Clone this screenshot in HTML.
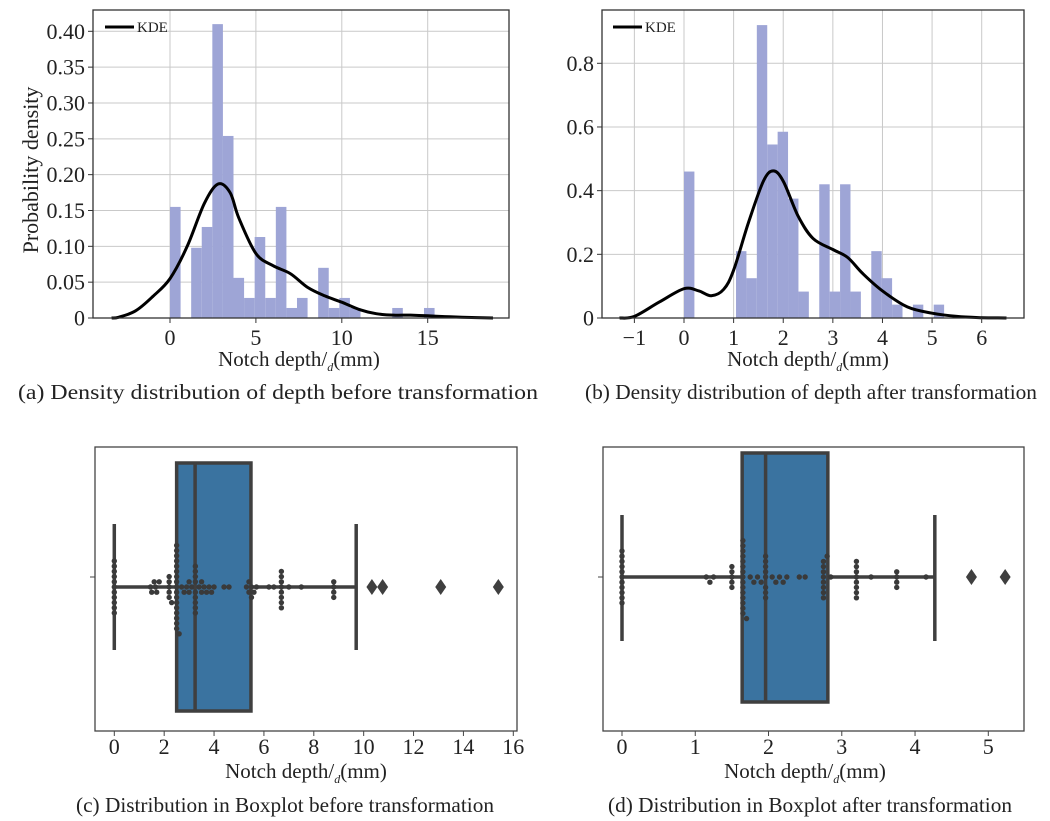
<!DOCTYPE html>
<html><head><meta charset="utf-8">
<style>
html,body{margin:0;padding:0;background:#fff;}
svg{display:block;font-family:"Liberation Serif",serif;}
</style></head>
<body>
<svg id="fig" width="1050" height="821" viewBox="0 0 1050 821" xmlns="http://www.w3.org/2000/svg"></svg>
<script>
// ---- Panel (a) data ----
const aBinWidth = 0.616;
const aHist = [0.155,0,0.098,0.127,0.41,0.254,0.056,0.028,0.113,0.028,0.155,0.014,0.028,0,0.070,0.014,0.028,0.014,0,0,0,0.014,0,0,0.014];
const aKdeX = [-3.4,-3,-2,-1,0,1,2,2.8,3.5,4,5,6,7,8,9,10,11,12,13,14,15,16,17,18.8];
const aKdeY = [0,0.001,0.01,0.03,0.055,0.10,0.16,0.187,0.175,0.14,0.09,0.073,0.062,0.043,0.031,0.022,0.012,0.006,0.004,0.004,0.003,0.002,0.001,0];
const aXTicks = [0,5,10,15];
const aYTicks = [0,0.05,0.10,0.15,0.20,0.25,0.30,0.35,0.40];
const aYLabels = ["0","0.05","0.10","0.15","0.20","0.25","0.30","0.35","0.40"];
// ---- Panel (b) data ----
const bBinWidth = 0.2097;
const bHist = [0.46,0,0,0,0,0.21,0.125,0.92,0.545,0.585,0.375,0.083,0,0.42,0.083,0.42,0.083,0,0.21,0.125,0.042,0,0.042,0,0.042];
const bKdeX = [-1.3,-1,-0.5,0,0.3,0.55,0.8,1,1.3,1.6,1.8,2,2.3,2.6,3,3.3,3.6,4,4.5,5,5.5,6,6.5];
const bKdeY = [0,0.005,0.05,0.092,0.085,0.07,0.09,0.15,0.30,0.43,0.462,0.43,0.32,0.25,0.215,0.19,0.14,0.085,0.035,0.015,0.005,0.001,0];
const bXTicks = [-1,0,1,2,3,4,5,6];
const bYTicks = [0,0.2,0.4,0.6,0.8];
const bYLabels = ["0","0.2","0.4","0.6","0.8"];
// ---- Panel (c) data ----
const cStats = [0,2.5,3.24,5.48,9.7]; // whisker low, q1, median, q3, whisker high
const cOutliers = [10.33,10.76,13.09,15.4];
const cPoints = [0,0,0,0,0,0,0,0,0,0,0,1.45,1.5,1.6,1.65,1.7,1.8,2.2,2.2,2.2,2.2,2.2,2.3,2.5,2.5,2.5,2.5,2.5,2.5,2.5,2.5,2.5,2.5,2.5,2.5,2.5,2.5,2.5,2.5,2.5,2.6,2.7,2.8,2.9,3.0,3.0,3.1,3.25,3.25,3.25,3.25,3.25,3.25,3.25,3.25,3.25,3.4,3.5,3.5,3.6,3.7,3.8,3.9,4.0,4.4,4.6,5.3,5.4,5.4,5.5,5.5,5.6,5.7,6.2,6.4,6.7,6.7,6.7,6.7,6.7,6.7,6.7,6.7,7.0,7.5,8.8,8.8,8.8,8.8];
const cXTicks = [0,2,4,6,8,10,12,14,16];
// ---- Panel (d) data ----
const dStats = [0,1.64,1.96,2.81,4.27];
const dOutliers = [4.77,5.23];
const dPoints = [0,0,0,0,0,0,0,0,0,0,0,1.15,1.2,1.25,1.5,1.5,1.5,1.5,1.5,1.65,1.65,1.65,1.65,1.65,1.65,1.65,1.65,1.65,1.65,1.65,1.65,1.65,1.65,1.65,1.7,1.75,1.8,1.85,1.9,1.96,1.96,1.96,1.96,1.96,1.96,1.96,1.96,2.05,2.1,2.15,2.2,2.25,2.42,2.5,2.75,2.75,2.75,2.75,2.75,2.75,2.75,2.75,2.8,2.85,3.2,3.2,3.2,3.2,3.2,3.2,3.2,3.2,3.4,3.75,3.75,3.75,3.75,4.15];
const dXTicks = [0,1,2,3,4,5];

const NS = "http://www.w3.org/2000/svg";
const svg = document.getElementById('fig');
function el(tag, attrs, parent){
  const e = document.createElementNS(NS, tag);
  for (const k in attrs) e.setAttribute(k, attrs[k]);
  (parent||svg).appendChild(e);
  return e;
}
function linear(d0,d1,r0,r1){ return v => r0 + (v-d0)/(d1-d0)*(r1-r0); }

function xLabel(cx, y, name){
  const t = el('text',{x:cx,y:y,'text-anchor':'middle','font-size':21,fill:'#222'});
  
  
  t.innerHTML = 'Notch depth/<tspan font-size="12" font-style="italic" dy="5">d</tspan><tspan dy="-5">(mm)</tspan>';
}
function caption(cx, y, txt, name, w){
  const t = el('text',{x:cx,y:y,'text-anchor':'middle','font-size':21,fill:'#222',textLength:w,lengthAdjust:'spacingAndGlyphs'});
  
  
  t.textContent = txt;
}
function smoothPath(pts){
  let d = 'M'+pts[0][0].toFixed(1)+','+pts[0][1].toFixed(1);
  for (let i=0;i<pts.length-1;i++){
    const p0=pts[Math.max(0,i-1)], p1=pts[i], p2=pts[i+1], p3=pts[Math.min(pts.length-1,i+2)];
    const c1=[p1[0]+(p2[0]-p0[0])/6, p1[1]+(p2[1]-p0[1])/6];
    const c2=[p2[0]-(p3[0]-p1[0])/6, p2[1]-(p3[1]-p1[1])/6];
    d += 'C'+c1[0].toFixed(1)+','+c1[1].toFixed(1)+' '+c2[0].toFixed(1)+','+c2[1].toFixed(1)+' '+p2[0].toFixed(1)+','+p2[1].toFixed(1);
  }
  return d;
}

function densityPanel(o){
  const g = el('g',{});
  
  
  const X = linear(o.x0v,o.x1v,o.x0p,o.x1p), Y = linear(0,o.yRefV,o.bottom,o.yRefP);
  o.xTicks.forEach(v=>{
    const l = el('line',{x1:X(v),x2:X(v),y1:o.top,y2:o.bottom,stroke:'#c9c9c9','stroke-width':1},g);
    
    
  });
  o.yTicks.forEach(v=>{
    const l = el('line',{x1:o.left,x2:o.right,y1:Y(v),y2:Y(v),stroke:'#c9c9c9','stroke-width':1},g);
    
    
  });
  o.hist.forEach((h,i)=>{
    if (h<=0) return;
    const x0 = X(i*o.bw), x1 = X((i+1)*o.bw);
    const r = el('rect',{x:x0,y:Y(h),width:x1-x0,height:o.bottom-Y(h),fill:'#9ea5d6'},g);
    
    
  });
  const pts = o.kx.map((v,i)=>[X(v),Y(o.ky[i])]);
  const p = el('path',{d:smoothPath(pts),fill:'none',stroke:'#000','stroke-width':3,'stroke-linejoin':'round'},g);
  
  
  const f = el('rect',{x:o.left,y:o.top,width:o.right-o.left,height:o.bottom-o.top,fill:'none',stroke:'#333','stroke-width':1.3},g);
  
  
  o.xTicks.forEach(v=>{
    el('line',{x1:X(v),x2:X(v),y1:o.bottom,y2:o.bottom+5,stroke:'#333'},g);
    const t = el('text',{x:X(v),y:o.bottom+27,'text-anchor':'middle','font-size':22,fill:'#222'},g);
    
    
    t.textContent = v<0 ? '\u2212'+(-v) : String(v);
  });
  o.yTicks.forEach((v,i)=>{
    el('line',{x1:o.left-5,x2:o.left,y1:Y(v),y2:Y(v),stroke:'#333'},g);
    const t = el('text',{x:o.left-8,y:Y(v)+7.5,'text-anchor':'end','font-size':22,fill:'#222'},g);
    
    
    t.textContent = o.yLabels[i];
  });
  const lg = el('g',{},g);
  
  
  el('line',{x1:o.legX,x2:o.legX+29,y1:27,y2:27,stroke:'#000','stroke-width':3},lg);
  const lt = el('text',{x:o.legX+32,y:32,'font-size':15,fill:'#222'},lg);
  lt.textContent='KDE';
}

densityPanel({name:'panel-a-density',left:93,right:509,top:10,bottom:318,x0v:0,x1v:15,x0p:170,x1p:427.7,yRefV:0.40,yRefP:31.3,
  xTicks:aXTicks,yTicks:aYTicks,yLabels:aYLabels,hist:aHist,bw:aBinWidth,kx:aKdeX,ky:aKdeY,legX:105});
densityPanel({name:'panel-b-density',left:602,right:1024,top:10,bottom:318,x0v:0,x1v:6,x0p:684,x1p:981.7,yRefV:0.8,yRefP:63.3,
  xTicks:bXTicks,yTicks:bYTicks,yLabels:bYLabels,hist:bHist,bw:bBinWidth,kx:bKdeX,ky:bKdeY,legX:613});

const yl = el('text',{x:0,y:0,transform:'translate(38,170) rotate(-90)','text-anchor':'middle','font-size':22,fill:'#222'});


yl.textContent='Probability density';

xLabel(299,366,'x-axis-title-a');
xLabel(808,366,'x-axis-title-b');
caption(278,399,'(a) Density distribution of depth before transformation','caption-a',520);
caption(811,399,'(b) Density distribution of depth after transformation','caption-b',452);

function boxPanel(o){
  const g = el('g',{});
  
  
  const X = linear(o.x0v,o.x1v,o.x0p,o.x1p);
  const cy = o.cy, ec = '#3f3f3f';
  const f = el('rect',{x:o.left,y:o.top,width:o.right-o.left,height:o.bottom-o.top,fill:'none',stroke:'#444','stroke-width':1.3},g);
  
  
  el('line',{x1:o.left-5,x2:o.left,y1:o.tickY,y2:o.tickY,stroke:'#444'},g);
  const s = o.stats;
  const box = el('rect',{x:X(s[1]),y:o.boxTop,width:X(s[3])-X(s[1]),height:o.boxBot-o.boxTop,fill:'#3a73a0',stroke:ec,'stroke-width':3.5},g);
  
  
  const med = el('line',{x1:X(s[2]),x2:X(s[2]),y1:o.boxTop,y2:o.boxBot,stroke:ec,'stroke-width':3.5},g);
  
  
  const w1 = el('line',{x1:X(s[0]),x2:X(s[1]),y1:cy,y2:cy,stroke:ec,'stroke-width':3.5},g);
  
  
  const w2 = el('line',{x1:X(s[3]),x2:X(s[4]),y1:cy,y2:cy,stroke:ec,'stroke-width':3.5},g);
  
  
  [s[0],s[4]].forEach(v=>{
    const c = el('line',{x1:X(v),x2:X(v),y1:o.capTop,y2:o.capBot,stroke:ec,'stroke-width':3.5},g);
    
    
  });
  o.outliers.forEach(v=>{
    const x=X(v);
    const p = el('path',{d:`M${x},${cy-8}L${x+5.5},${cy}L${x},${cy+8}L${x-5.5},${cy}Z`,fill:ec},g);
    
    
  });
  const placed=[]; const r=2.7, dd=5.2;
  o.points.slice().sort((a,b)=>a-b).forEach(v=>{
    const x=X(v);
    let k=0, y;
    while(true){
      const off = k===0?0:(k%2? Math.ceil(k/2): -Math.ceil(k/2))*dd;
      y = cy + off;
      if (!placed.some(p=>Math.hypot(p[0]-x,p[1]-y)<dd-0.3)) break;
      k++;
    }
    placed.push([x,y]);
    const c = el('circle',{cx:x,cy:y,r:r,fill:'#3a3a3a'},g);
    
    
  });
  o.xTicks.forEach(v=>{
    el('line',{x1:X(v),x2:X(v),y1:o.bottom,y2:o.bottom+5,stroke:'#444'},g);
    const t = el('text',{x:X(v),y:o.bottom+23,'text-anchor':'middle','font-size':22,fill:'#222'},g);
    
    
    t.textContent = String(v);
  });
}
boxPanel({name:'panel-c-boxplot',left:95,right:517,top:447,bottom:731,x0v:0,x1v:16,x0p:114.3,x1p:513.3,cy:587,tickY:577,
  boxTop:463,boxBot:711,capTop:524,capBot:650,stats:cStats,outliers:cOutliers,points:cPoints,xTicks:cXTicks});
boxPanel({name:'panel-d-boxplot',left:603,right:1024,top:447,bottom:731,x0v:0,x1v:5,x0p:622,x1p:988.3,cy:577,tickY:577,
  boxTop:453,boxBot:702,capTop:515,capBot:641,stats:dStats,outliers:dOutliers,points:dPoints,xTicks:dXTicks});

xLabel(306,778,'x-axis-title-c');
xLabel(805,778,'x-axis-title-d');
caption(285,812,'(c) Distribution in Boxplot before transformation','caption-c',418);
caption(810,812,'(d) Distribution in Boxplot after transformation','caption-d',404);
</script>
</body></html>
